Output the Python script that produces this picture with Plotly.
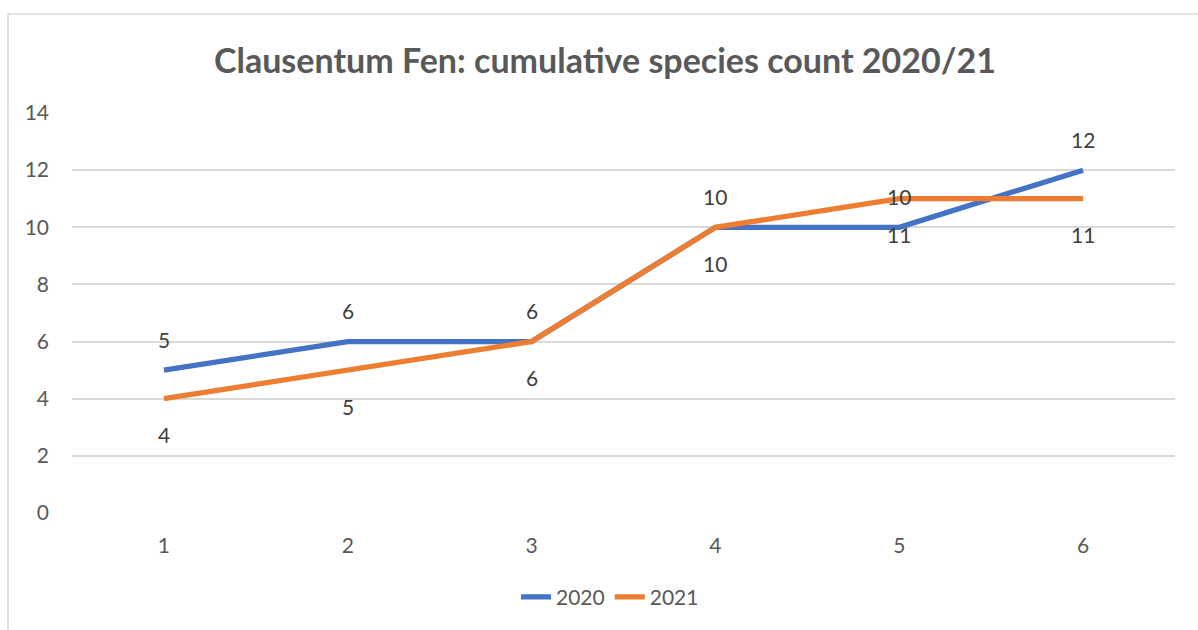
import plotly.graph_objects as go

categories = [1, 2, 3, 4, 5, 6]
series_2020 = [5, 6, 6, 10, 10, 12]
series_2021 = [4, 5, 6, 10, 11, 11]
y_ticks = [0, 2, 4, 6, 8, 10, 12, 14]
title = "Clausentum Fen: cumulative species count 2020/21"

FONT = "Lato"
W, H = 1198, 630
ML, MR, MT, MB = 72, 23, 113, 113
PW, PH = W - ML - MR, H - MT - MB

fig = go.Figure()
fig.add_trace(go.Scatter(x=categories, y=series_2020, name="2020", mode="lines",
                         line=dict(color="#4472C4", width=5.25), cliponaxis=False))
fig.add_trace(go.Scatter(x=categories, y=series_2021, name="2021", mode="lines",
                         line=dict(color="#ED7D31", width=5.25), cliponaxis=False))

anns = []
for x, y in zip(categories, series_2020):
    anns.append(dict(x=x, y=y, text=str(y), showarrow=False, yshift=31,
                     font=dict(family=FONT, size=21, color="#404040")))
for x, y in zip(categories, series_2021):
    anns.append(dict(x=x, y=y, text=str(y), showarrow=False, yshift=-36,
                     font=dict(family=FONT, size=21, color="#404040")))

fig.update_layout(
    width=W, height=H,
    margin=dict(l=ML, r=MR, t=MT, b=MB),
    paper_bgcolor="white", plot_bgcolor="white",
    title=dict(text="<b>" + title + "</b>", x=(605 - ML) / PW, xref="paper", xanchor="center",
               y=1 - 61 / H, yanchor="middle",
               font=dict(family=FONT, size=34, color="#595959")),
    xaxis=dict(tickmode="array", tickvals=categories, ticktext=[str(c) for c in categories],
               range=[0.5, 6.5], showgrid=False, zeroline=False, showline=False,
               ticks="outside", ticklen=14, tickcolor="rgba(0,0,0,0)",
               tickfont=dict(family=FONT, size=21, color="#595959")),
    yaxis=dict(range=[0, 14], tickvals=y_ticks, showgrid=True, gridcolor="#D9D9D9", gridwidth=1.5,
               zeroline=False, showline=False, ticklabelstandoff=22,
               tickfont=dict(family=FONT, size=21, color="#595959")),
    showlegend=True,
    legend=dict(orientation="h", x=(610 - ML) / PW, xanchor="center", y=(517 - 602) / PH,
                yanchor="middle", font=dict(family=FONT, size=21, color="#595959"),
                bgcolor="rgba(0,0,0,0)"),
    annotations=anns,
    shapes=[dict(type="rect", xref="paper", yref="paper",
                 x0=(8 - ML) / PW, x1=(1300 - ML) / PW,
                 y0=(517 - 700) / PH, y1=(517 - 13) / PH,
                 line=dict(color="#D9D9D9", width=1.5), fillcolor="rgba(0,0,0,0)", layer="below")],
)

fig.write_html("out.html")
